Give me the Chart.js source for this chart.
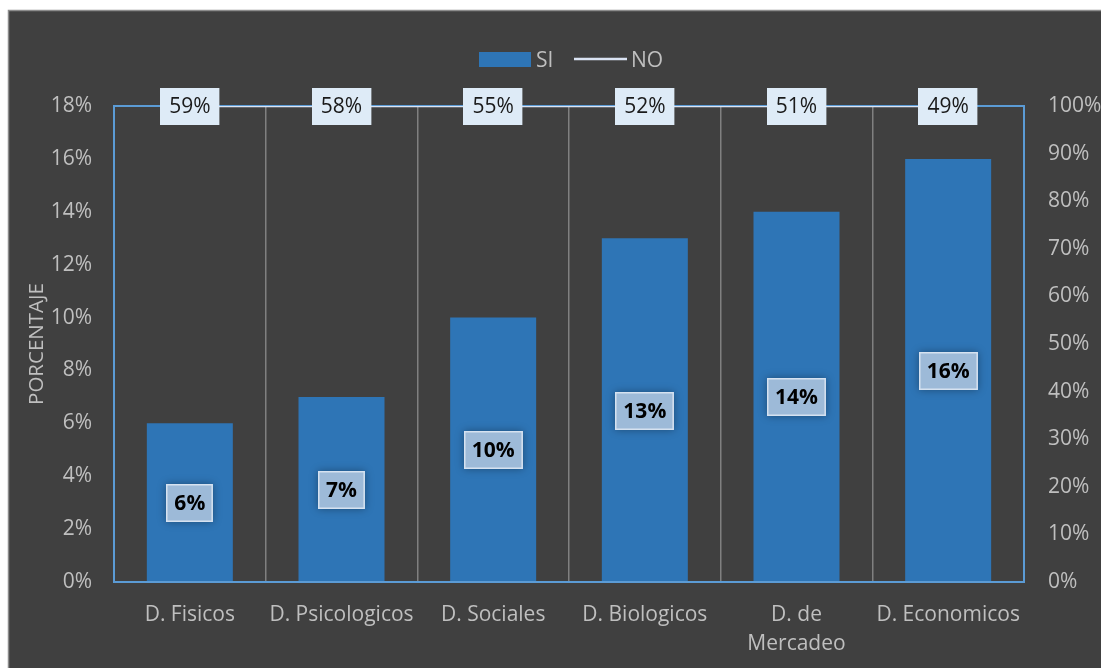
<!DOCTYPE html>
<html>
<head>
<meta charset="utf-8">
<script src="https://cdn.jsdelivr.net/npm/chart.js@4.4.1/dist/chart.umd.min.js"></script>
<style>
  html, body { margin: 0; padding: 0; background: #ffffff; }
  #wrap { width: 1101px; height: 668px; position: relative; }
</style>
</head>
<body>
<div id="wrap"><canvas id="chart" width="1101" height="668"></canvas></div>
<script>
// Categories and series
const CATEGORIES = ['D. Fisicos', 'D. Psicologicos', 'D. Sociales', 'D. Biologicos', ['D. de', 'Mercadeo'], 'D. Economicos'];
const SI_VALUES = [0.06, 0.07, 0.10, 0.13, 0.14, 0.16];      // left axis, fraction
const NO_VALUES = [59, 58, 55, 52, 51, 49];                   // stored as whole percent numbers
const LEFT_TICKS = [0, 0.02, 0.04, 0.06, 0.08, 0.10, 0.12, 0.14, 0.16, 0.18];
const RIGHT_TICKS = [0, 0.1, 0.2, 0.3, 0.4, 0.5, 0.6, 0.7, 0.8, 0.9, 1.0];

const LEFT_MAX = LEFT_TICKS[LEFT_TICKS.length - 1];
const RIGHT_MAX = RIGHT_TICKS[RIGHT_TICKS.length - 1];

const FONT = '"Open Sans", "Noto Sans", sans-serif';
const FONT_SIZE = 21;
const TEXT_GREY = '#bfbfbf';
const FRAME_BLUE = '#5b9bd5';
const BAR_BLUE = '#2e75b6';
const LINE_COLOR = '#dae3f3';
const GRID_GREY = '#808080';

const pct = v => Math.round(v * 100) + '%';

// Page background and dark panel
const panelPlugin = {
  id: 'panel',
  beforeDraw(chart) {
    const c = chart.ctx;
    c.save();
    c.fillStyle = '#ffffff';
    c.fillRect(0, 0, chart.width, chart.height);
    c.fillStyle = '#404040';
    c.fillRect(8, 10, chart.width - 8, chart.height - 10);
    c.strokeStyle = '#8c8c8c';
    c.lineWidth = 1.5;
    c.beginPath();
    c.moveTo(8.5, chart.height);
    c.lineTo(8.5, 10.5);
    c.lineTo(chart.width, 10.5);
    c.stroke();
    c.restore();
  }
};

// Legend drawn at the top centre
const legendPlugin = {
  id: 'topLegend',
  afterDraw(chart) {
    const c = chart.ctx;
    c.save();
    c.font = FONT_SIZE + 'px ' + FONT;
    c.textBaseline = 'middle';
    c.fillStyle = chart.data.datasets[0].backgroundColor;
    c.fillRect(479, 52, 52, 15);
    c.fillStyle = TEXT_GREY;
    c.textAlign = 'left';
    c.fillText(chart.data.datasets[0].label, 536, 61);
    c.strokeStyle = chart.data.datasets[1].borderColor;
    c.lineWidth = 2.5;
    c.beginPath();
    c.moveTo(574, 59);
    c.lineTo(627, 59);
    c.stroke();
    c.fillText(chart.data.datasets[1].label, 631, 61);
    c.restore();
  }
};

function drawBox(c, x, y, text, opts) {
  c.font = opts.font;
  const w = c.measureText(text).width + opts.padX * 2;
  const h = opts.h;
  const bx = Math.round(x - w / 2), by = Math.round(y - h / 2);
  c.save();
  if (opts.shadow) {
    c.shadowColor = 'rgba(0,0,0,0.35)';
    c.shadowBlur = 8;
  }
  c.fillStyle = opts.fill;
  c.fillRect(bx, by, w, h);
  c.restore();
  if (opts.stroke) {
    c.strokeStyle = opts.stroke;
    c.lineWidth = 1.5;
    c.strokeRect(bx + 0.75, by + 0.75, w - 1.5, h - 1.5);
  }
  c.fillStyle = opts.color;
  c.textAlign = 'center';
  c.textBaseline = 'middle';
  c.fillText(text, x, y + 1);
}

// Value labels for both series
const valueLabels = {
  id: 'valueLabels',
  afterDatasetsDraw(chart) {
    const c = chart.ctx;
    c.save();
    chart.getDatasetMeta(0).data.forEach((el, i) => {
      const yMid = (el.y + el.base) / 2;
      drawBox(c, el.x, yMid + 1, pct(SI_VALUES[i]), {
        font: 'bold ' + FONT_SIZE + 'px ' + FONT, padX: 8, h: 38,
        fill: '#9dbad8', stroke: '#d6e2f0', color: '#000000', shadow: true
      });
    });
    chart.getDatasetMeta(1).data.forEach((el, i) => {
      drawBox(c, el.x, el.y, NO_VALUES[i] + '%', {
        font: FONT_SIZE + 'px ' + FONT, padX: 9, h: 37,
        fill: '#deebf7', stroke: null, color: '#1a1a1a', shadow: false
      });
    });
    c.restore();
  }
};

new Chart(document.getElementById('chart'), {
  data: {
    labels: CATEGORIES,
    datasets: [
      {
        type: 'bar',
        label: 'SI',
        data: SI_VALUES,
        yAxisID: 'y',
        backgroundColor: BAR_BLUE,
        borderWidth: 0,
        categoryPercentage: 1,
        barPercentage: 0.567,
        order: 2
      },
      {
        type: 'line',
        label: 'NO',
        // values beyond the right axis range sit on its top edge
        data: NO_VALUES.map(v => Math.min(v, RIGHT_MAX)),
        yAxisID: 'y2',
        borderColor: LINE_COLOR,
        borderWidth: 2.5,
        pointRadius: 0,
        tension: 0,
        order: 1
      }
    ]
  },
  options: {
    responsive: false,
    animation: false,
    layout: { padding: { top: 106, right: 0, bottom: 0, left: 0 } },
    plugins: { legend: { display: false }, tooltip: { enabled: false } },
    scales: {
      x: {
        offset: true,
        grid: {
          offset: true,
          drawTicks: false,
          lineWidth: 1.5,
          color: ctx => (ctx.index === 0 || ctx.index === CATEGORIES.length) ? 'rgba(0,0,0,0)' : GRID_GREY
        },
        border: { color: FRAME_BLUE, width: 2 },
        ticks: {
          color: TEXT_GREY,
          font: { family: FONT, size: FONT_SIZE, lineHeight: 1.35 },
          padding: 19,
          maxRotation: 0,
          autoSkip: false
        },
        afterFit: s => { s.height = 86; }
      },
      y: {
        position: 'left',
        min: 0,
        max: LEFT_MAX,
        afterBuildTicks: s => { s.ticks = LEFT_TICKS.map(v => ({ value: v })); },
        grid: {
          drawTicks: false,
          lineWidth: 2,
          color: ctx => (ctx.index === LEFT_TICKS.length - 1) ? FRAME_BLUE : 'rgba(0,0,0,0)'
        },
        border: { color: FRAME_BLUE, width: 2 },
        ticks: {
          color: TEXT_GREY,
          font: { family: FONT, size: FONT_SIZE },
          padding: 22,
          callback: v => pct(v)
        },
        title: {
          display: true,
          text: 'PORCENTAJE',
          color: TEXT_GREY,
          font: { family: FONT, size: 20.5 },
          padding: { top: 25, bottom: 0 }
        },
        afterFit: s => { s.width = 114; }
      },
      y2: {
        position: 'right',
        min: 0,
        max: RIGHT_MAX,
        afterBuildTicks: s => { s.ticks = RIGHT_TICKS.map(v => ({ value: v })); },
        grid: { display: false, drawTicks: false },
        border: { color: FRAME_BLUE, width: 2 },
        ticks: {
          color: TEXT_GREY,
          font: { family: FONT, size: FONT_SIZE },
          padding: 24,
          callback: v => pct(v)
        },
        afterFit: s => { s.width = 77; }
      }
    }
  },
  plugins: [panelPlugin, valueLabels, legendPlugin]
});
</script>
</body>
</html>
